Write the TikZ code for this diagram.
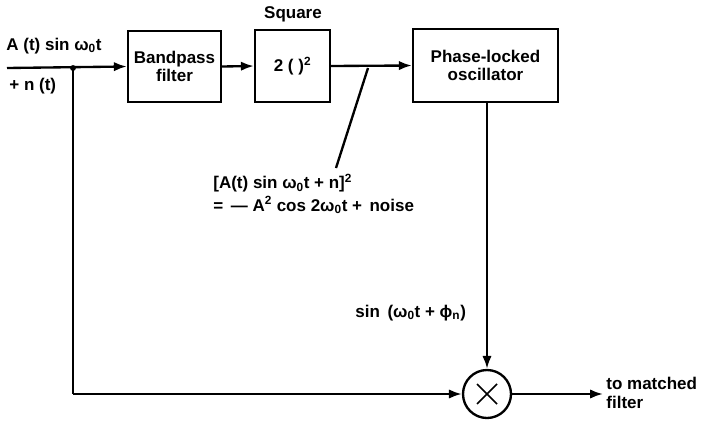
\documentclass[tikz,border=0pt]{standalone}
\usepackage{fontspec}
\setmainfont{Liberation Sans}
\usetikzlibrary{arrows.meta}
\begin{document}
\begin{tikzpicture}[x=0.03cm,y=-0.03cm,
  every node/.style={font=\bfseries\fontsize{14.5}{16}\selectfont},
  blk/.style={draw,line width=2pt,inner sep=0pt,align=center},
  wire/.style={line width=2pt},
  cross/.style={line width=1.3pt},
  arr/.style={line width=2pt,-{Latex[length=11pt,width=8pt]}},
  lbl/.style={inner sep=1pt}]
\useasboundingbox (0,0) rectangle (704,420);
\node[blk,minimum width=93*0.03cm,minimum height=71*0.03cm] (bp) at (174.5,66.5) {Bandpass\\filter};
\node[blk,minimum width=75*0.03cm,minimum height=72*0.03cm] (sq) at (292.5,66) {2 ( )\textsuperscript{2}};
\node[blk,minimum width=145*0.03cm,minimum height=73*0.03cm] (plo) at (485.5,65.5) {Phase-locked\\oscillator};
\node[lbl] (sqlbl) at (293,14) {Square};
\node[draw,circle,line width=2pt,minimum size=48*0.03cm,inner sep=0pt] (mul) at (487,394) {};
\draw[cross] ([shift={(-10,-10)}]mul.center) -- ([shift={(10,10)}]mul.center);
\draw[cross] ([shift={(-10,10)}]mul.center) -- ([shift={(10,-10)}]mul.center);
\coordinate (in) at (7,68);
\coordinate (j) at (73,68);
\coordinate (jb) at (73,394);
\coordinate (out) at (603,394);
\coordinate (ptop) at (368,68);
\coordinate (pbot) at (336,168);
\node[lbl,anchor=west] (ina) at (5,46) {A (t) sin ω\textsubscript{0}t};
\node[lbl,anchor=west] (inn) at (8,86) {+ n (t)};
\node[lbl,anchor=west,align=left,font=\bfseries\fontsize{14.5}{19}\selectfont] (eq) at (212,194) {[A(t) sin ω\textsubscript{0}t + n]\textsuperscript{2}\\= \,— A\textsuperscript{2} cos 2ω\textsubscript{0}t + \,noise};
\node[lbl,anchor=west] (sinlbl) at (354,313) {sin \,(ω\textsubscript{0}t + ϕ\textsubscript{n})};
\node[lbl,anchor=west,align=left] (mf) at (605,393) {to matched\\filter};
\draw[arr] (in) -- (bp.west);
\fill (j) circle (2.5pt);
\draw[arr] (bp.east) -- (sq.west);
\draw[arr] (sq.east) -- (plo.west);
\draw[wire] (ptop) -- (pbot);
\draw[arr] (plo.south -| mul.north) -- (mul.north);
\draw[wire] (j) -- (jb);
\draw[arr] (jb) -- (mul.west);
\draw[arr] (mul.east) -- (out);
\end{tikzpicture}
\end{document}
